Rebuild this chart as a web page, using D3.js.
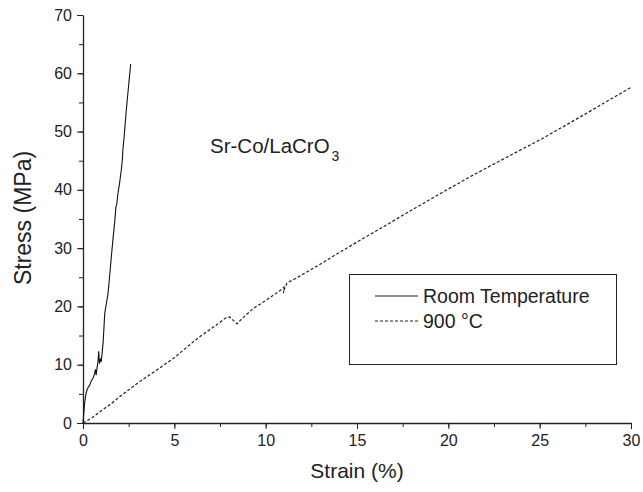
<!DOCTYPE html>
<html>
<head>
<meta charset="utf-8">
<script src="https://cdn.jsdelivr.net/npm/d3@7"></script>
<style>
  body { margin: 0; background: #fff; }
  text { font-family: "Liberation Sans", Arial, sans-serif; fill: #222; }
</style>
</head>
<body>
<script>
// room temperature curve, strain (%) / stress (MPa)
var rtStrain = [0, 0.05, 0.09, 0.15, 0.22, 0.3, 0.37, 0.45, 0.55, 0.62, 0.68, 0.72, 0.76, 0.82, 0.86, 0.9,
  0.95, 1.0, 1.06, 1.1, 1.15, 1.19, 1.28, 1.37, 1.46, 1.55, 1.64, 1.73, 1.8, 1.85, 1.92, 2.0, 2.1, 2.16,
  2.18, 2.25, 2.37, 2.5, 2.61];
var rtStress = [0, 2.0, 3.4, 4.8, 5.7, 6.2, 6.5, 7.2, 7.7, 8.3, 9.2, 8.2, 9.3, 10.5, 12.3, 10.2,
  10.9, 10.5, 12.5, 13.7, 16.5, 18.8, 20.5, 22.2, 25.3, 28.5, 31.5, 34.3, 37.0, 37.6, 39.5, 41.1, 43.5, 45.4,
  46.8, 49.0, 53.7, 58.0, 61.6];

// 900 C curve
var htStrain = [0, 0.5, 0.91, 1.5, 2.0, 3.1, 4.0, 5.0, 6.1, 6.48, 7.3, 7.8, 8.03, 8.2, 8.43, 8.67, 9.3,
  10.04, 10.5, 10.86, 11.0, 10.97, 11.05, 11.17, 11.86, 12.86, 14, 16.4, 18.8, 21.16, 23.2, 25.27, 27.6, 30];
var htStress = [0, 0.9, 1.9, 3.2, 4.5, 7.1, 9.0, 11.2, 14.1, 15.0, 16.8, 18.0, 18.2, 17.7, 17.0, 17.8, 19.6,
  21.1, 22.1, 22.9, 23.3, 22.3, 23.2, 24.0, 25.2, 27.0, 29.2, 33.6, 38.0, 42.2, 45.6, 49.0, 53.2, 57.6];

var xTicks = [0, 5, 10, 15, 20, 25, 30];
var yTicks = [0, 10, 20, 30, 40, 50, 60, 70];
var seriesNames = ["Room Temperature", "900 \u00b0C"];

var W = 643, H = 492;
var margin = {left: 83, right: 12, top: 15, bottom: 69};

var svg = d3.select("body").append("svg")
  .attr("width", W)
  .attr("height", H);

var x = d3.scaleLinear().domain([0, 30]).range([margin.left, W - margin.right]);
var y = d3.scaleLinear().domain([0, 70]).range([H - margin.bottom, margin.top]);

function zip(a, b) {
  return a.map(function (v, i) { return [v, b[i]]; });
}

// axes, minor ticks first then major with labels
var xMinor = d3.range(0, 30.01, 2.5);
var yMinor = d3.range(0, 70.01, 5);

svg.append("g")
  .attr("transform", "translate(0," + y(0) + ")")
  .call(d3.axisBottom(x).tickValues(xMinor).tickSize(4).tickFormat(""))
  .call(function (g) { g.select(".domain").remove(); });
svg.append("g")
  .attr("transform", "translate(" + x(0) + ",0)")
  .call(d3.axisLeft(y).tickValues(yMinor).tickSize(4).tickFormat(""))
  .call(function (g) { g.select(".domain").remove(); });

svg.append("g")
  .attr("transform", "translate(0," + y(0) + ")")
  .call(d3.axisBottom(x).tickValues(xTicks).tickSize(6).tickSizeOuter(0).tickPadding(6));
svg.append("g")
  .attr("transform", "translate(" + x(0) + ",0)")
  .call(d3.axisLeft(y).tickValues(yTicks).tickSize(6).tickSizeOuter(0).tickPadding(5));

svg.selectAll(".tick line").attr("stroke", "#222");
svg.selectAll(".domain").attr("stroke", "#222").attr("stroke-width", 1.3);
svg.selectAll(".tick text")
  .style("font-family", "'Liberation Sans', Arial, sans-serif")
  .style("font-size", "16px")
  .attr("fill", "#222");

// axis titles
svg.append("text")
  .attr("x", (x(0) + x(30)) / 2)
  .attr("y", 478)
  .attr("text-anchor", "middle")
  .style("font-size", "21px")
  .text("Strain (%)");
svg.append("text")
  .attr("transform", "translate(31," + 218 + ") rotate(-90)")
  .attr("text-anchor", "middle")
  .style("font-size", "23px")
  .text("Stress (MPa)");

var line = d3.line()
  .x(function (d) { return x(d[0]); })
  .y(function (d) { return y(d[1]); });

svg.append("path")
  .datum(zip(rtStrain, rtStress))
  .attr("fill", "none")
  .attr("stroke", "#111")
  .attr("stroke-width", 1.1)
  .attr("d", line);

svg.append("path")
  .datum(zip(htStrain, htStress))
  .attr("fill", "none")
  .attr("stroke", "#222")
  .attr("stroke-width", 1.2)
  .attr("stroke-dasharray", "3,2")
  .attr("d", line);

// annotation
var ann = svg.append("text")
  .attr("x", 210)
  .attr("y", 153)
  .style("font-size", "20.5px");
ann.append("tspan").text("Sr-Co/LaCrO");
ann.append("tspan")
  .attr("dx", 2)
  .attr("dy", 8)
  .style("font-size", "14px")
  .text("3");

// legend
var lg = svg.append("g");
lg.append("rect")
  .attr("x", 349.5).attr("y", 274.5)
  .attr("width", 267).attr("height", 90)
  .attr("fill", "none")
  .attr("stroke", "#222")
  .attr("stroke-width", 1);

seriesNames.forEach(function (name, i) {
  var ly = 296 + i * 25;
  lg.append("line")
    .attr("x1", 375).attr("x2", 418)
    .attr("y1", ly).attr("y2", ly)
    .attr("stroke", "#222")
    .attr("stroke-width", i == 0 ? 1.1 : 1.2)
    .attr("stroke-dasharray", i == 0 ? null : "3,2");
  lg.append("text")
    .attr("x", 423)
    .attr("y", ly + 6.5)
    .style("font-size", "19.5px")
    .text(name);
});
</script>
</body>
</html>
